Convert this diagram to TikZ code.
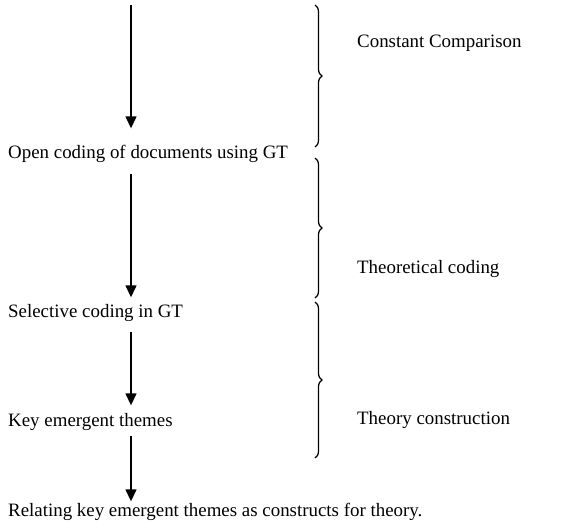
\documentclass[tikz,border=0pt]{standalone}
\usepackage{fontspec}
\setmainfont{Liberation Serif}
\usetikzlibrary{arrows.meta,decorations.pathreplacing}
\begin{document}
\begin{tikzpicture}[x=1pt,y=-1pt,
  label/.style={inner sep=0pt,anchor=west,text height=13pt,text depth=4pt,
    font=\fontsize{18.9}{22}\selectfont},
  flow/.style={line width=1.4pt,-{Triangle[width=11pt,length=12pt]}},
  curly/.style={line width=1.2pt,decorate,
    decoration={brace,amplitude=7pt,aspect=0.5}}]
\useasboundingbox (0,0) rectangle (582,528);

% process steps
\coordinate (start) at (131,5);
\node[label] (open)  at (8,154) {Open coding of documents using GT};
\node[label] (sel)   at (8,313) {Selective coding in GT};
\node[label] (key)   at (8,422) {Key emergent themes};
\node[label] (rel)   at (8,512) {Relating key emergent themes as constructs for theory.};

\draw[flow,shorten >=17pt] (start) -- (start |- open.north);
\draw[flow,shorten <=11pt,shorten >=7pt] (open.south -| start) -- (sel.north -| start);
\draw[flow,shorten <=10pt,shorten >=8pt] (sel.south -| start) -- (key.north -| start);
\draw[flow,shorten <=5pt,shorten >=2pt] (key.south -| start) -- (rel.north -| start);

% phase braces
\coordinate (b1t) at (315,5);   \coordinate (b1b) at (315,147);
\coordinate (b2t) at (315,158); \coordinate (b2b) at (315,298);
\coordinate (b3t) at (315,302); \coordinate (b3b) at (315,458);
\draw[curly] (b1t) -- (b1b);
\draw[curly] (b2t) -- (b2b);
\draw[curly] (b3t) -- (b3b);

\node[label] (cc) at (357,43)  {Constant Comparison};
\node[label] (tc) at (357,269) {Theoretical coding};
\node[label] (th) at (357,420) {Theory construction};
\end{tikzpicture}
\end{document}
